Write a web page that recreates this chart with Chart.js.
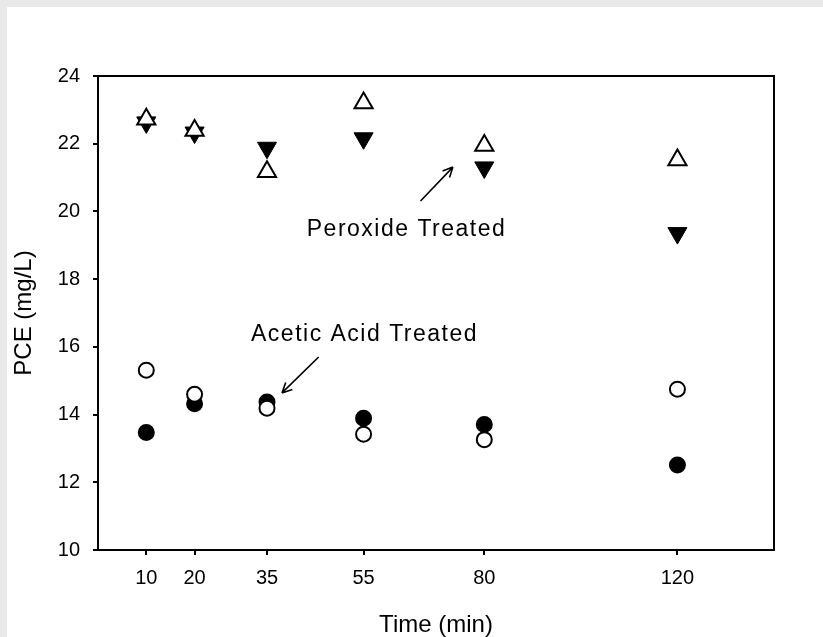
<!DOCTYPE html>
<html lang="en">
<head>
  <meta charset="UTF-8">
  <title>PCE vs Time</title>
  <script src="https://cdn.jsdelivr.net/npm/chart.js"></script>
  <style>
    body { margin: 0; background: #e9e9e9; }
    #wrap { position: absolute; left: 7px; top: 7px; width: 816px; height: 630px; background: #fff; }
  </style>
</head>
<body>
  <div id="wrap"><canvas id="pceChart"></canvas></div>

  <script>
    // data
    const times = [10, 20, 35, 55, 80, 120];
    const peroxideOpen = [22.72, 22.39, 21.17, 23.2, 21.95, 21.52];
    const peroxideFilled = [22.63, 22.33, 21.88, 22.16, 21.3, 19.36];
    const aceticOpen = [15.31, 14.6, 14.19, 13.42, 13.26, 14.75];
    const aceticFilled = [13.47, 14.32, 14.37, 13.89, 13.71, 12.51];
    const xTicks = [10, 20, 35, 55, 80, 120];

    // annotation labels and arrows, in data units
    const labels = [
      { text: 'Peroxide Treated', x: 63.9, y: 19.46 },
      { text: 'Acetic Acid Treated', x: 55.2, y: 16.37 }
    ];
    const arrows = [
      { from: [66.8, 20.31], to: [73.5, 21.31] },
      { from: [45.7, 15.70], to: [38.1, 14.64] }
    ];

    const pts = vals => vals.map((v, i) => ({ x: times[i], y: v }));

    const frame = {
      id: 'frame',
      afterDraw(chart) {
        const { ctx, chartArea: a, scales: { x, y } } = chart;
        ctx.save();
        ctx.strokeStyle = '#000';
        ctx.lineWidth = 2;
        ctx.strokeRect(a.left, a.top, a.right - a.left, a.bottom - a.top);

        ctx.font = '23px Arial, "Liberation Sans", sans-serif';
        ctx.letterSpacing = '1.5px';
        ctx.fillStyle = '#000';
        ctx.textAlign = 'center';
        ctx.textBaseline = 'middle';
        labels.forEach(l => ctx.fillText(l.text, x.getPixelForValue(l.x), y.getPixelForValue(l.y)));

        ctx.lineWidth = 1.6;
        arrows.forEach(ar => {
          const x1 = x.getPixelForValue(ar.from[0]), y1 = y.getPixelForValue(ar.from[1]);
          const x2 = x.getPixelForValue(ar.to[0]), y2 = y.getPixelForValue(ar.to[1]);
          const ang = Math.atan2(y2 - y1, x2 - x1);
          ctx.beginPath();
          ctx.moveTo(x1, y1);
          ctx.lineTo(x2, y2);
          [0.45, -0.45].forEach(d => {
            ctx.moveTo(x2, y2);
            ctx.lineTo(x2 - 11 * Math.cos(ang + d), y2 - 11 * Math.sin(ang + d));
          });
          ctx.stroke();
        });
        ctx.restore();
      }
    };

    new Chart(document.getElementById('pceChart').getContext('2d'), {
      type: 'scatter',
      data: {
        datasets: [
          { data: pts(peroxideOpen), pointStyle: 'triangle', pointRadius: 10.5, backgroundColor: '#fff', borderColor: '#000', borderWidth: 2 },
          { data: pts(aceticOpen), pointStyle: 'circle', pointRadius: 7.5, backgroundColor: '#fff', borderColor: '#000', borderWidth: 2 },
          { data: pts(peroxideFilled), pointStyle: 'triangle', rotation: 180, pointRadius: 11, backgroundColor: '#000', borderColor: '#000', borderWidth: 1 },
          { data: pts(aceticFilled), pointStyle: 'circle', pointRadius: 7.5, backgroundColor: '#000', borderColor: '#000', borderWidth: 2 }
        ]
      },
      options: {
        responsive: true,
        maintainAspectRatio: false,
        animation: false,
        events: [],
        layout: { padding: { top: 69, right: 49, left: 0, bottom: 0 } },
        plugins: { legend: { display: false }, tooltip: { enabled: false } },
        scales: {
          x: {
            type: 'linear', min: 0, max: 140,
            afterBuildTicks: s => { s.ticks = xTicks.map(v => ({ value: v })); },
            afterFit: s => { s.height = 87; },
            grid: { drawOnChartArea: false, tickLength: 5, tickColor: '#000', lineWidth: 2 },
            border: { color: '#000', width: 2 },
            ticks: { color: '#000', padding: 11, font: { family: 'Arial, "Liberation Sans"', size: 20 } },
            title: { display: true, text: 'Time (min)', color: '#000', padding: 0,
              font: { family: 'Arial, "Liberation Sans"', size: 24, lineHeight: 1 } }
          },
          y: {
            min: 10, max: 24,
            afterFit: s => { s.width = 91; },
            grid: { drawOnChartArea: false, tickLength: 5, tickColor: '#000', lineWidth: 2 },
            border: { color: '#000', width: 2 },
            ticks: { stepSize: 2, color: '#000', padding: 13, font: { family: 'Arial, "Liberation Sans"', size: 20 } },
            title: { display: true, text: 'PCE (mg/L)', color: '#000', padding: { top: 5, bottom: 0 },
              font: { family: 'Arial, "Liberation Sans"', size: 24, lineHeight: 1 } }
          }
        }
      },
      plugins: [frame]
    });
  </script>
</body>
</html>
